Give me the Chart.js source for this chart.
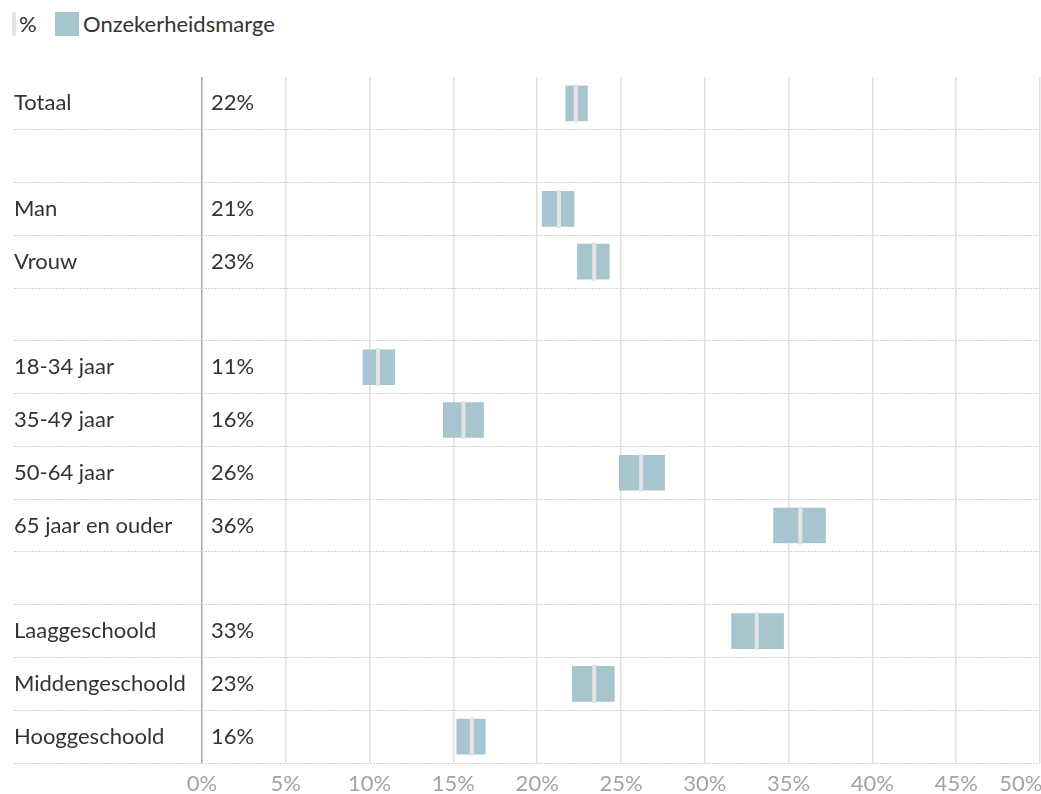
<!DOCTYPE html>
<html lang="nl">
<head>
<meta charset="utf-8">
<title>Onzekerheidsmarge</title>
<script src="https://cdn.jsdelivr.net/npm/chart.js@4.4.1/dist/chart.umd.min.js"></script>
<style>
  html, body { margin: 0; padding: 0; background: #fff; }
  body { width: 1041px; height: 794px; position: relative; overflow: hidden; font-family: Lato, sans-serif; color: #333; }
  .legend { position: absolute; left: 0; top: 0; width: 400px; height: 48px; font-size: 22px; line-height: 24px; }
  .legend span { position: absolute; top: 12px; }
  .legend .mark-line { left: 12px; width: 4px; height: 24px; background: #e4e4e2; }
  .legend .mark-box { left: 55px; width: 24px; height: 24px; background: #a7c5cf; }
  #chart { position: absolute; left: 0; top: 0; }
</style>
</head>
<body>
<div class="legend">
  <span class="mark-line"></span><span style="left:19px">%</span>
  <span class="mark-box"></span><span style="left:83px">Onzekerheidsmarge</span>
</div>
<!-- canvas is breder dan het venster zodat het label "50%" het grafiekvlak niet inkrimpt -->
<canvas id="chart" width="1100" height="794"></canvas>
<script>
// rijen (lege strings = witregel tussen groepen)
const categories = ['Totaal', '', 'Man', 'Vrouw', '', '18-34 jaar', '35-49 jaar', '50-64 jaar', '65 jaar en ouder', '', 'Laaggeschoold', 'Middengeschoold', 'Hooggeschoold'];
const valueLabels = ['22%', '', '21%', '23%', '', '11%', '16%', '26%', '36%', '', '33%', '23%', '16%'];
const percent = [22.3, null, 21.3, 23.4, null, 10.5, 15.6, 26.2, 35.7, null, 33.1, 23.4, 16.1];
const marginLow = [21.7, null, 20.3, 22.4, null, 9.6, 14.4, 24.9, 34.1, null, 31.6, 22.1, 15.2];
const marginHigh = [23.0, null, 22.2, 24.3, null, 11.5, 16.8, 27.6, 37.2, null, 34.7, 24.6, 16.9];

const barColor = '#a7c5cf';
const markColor = '#e4e4e2';
const textColor = '#333333';
const dotColor = '#d4d4d4';

Chart.defaults.font.family = 'Lato, sans-serif';
Chart.defaults.font.size = 22;
Chart.defaults.color = textColor;

const hideEdges = (c) => (c.index === 0 || c.index === categories.length) ? 'rgba(0,0,0,0)' : dotColor;

const ctx = document.getElementById('chart').getContext('2d');
new Chart(ctx, {
    type: 'bar',
    data: {
        labels: categories,
        datasets: [
            {
                type: 'line',
                label: '%',
                indexAxis: 'y',
                data: percent,
                showLine: false,
                pointStyle: 'line',
                rotation: 90,
                pointRadius: 19,
                pointHoverRadius: 19,
                pointBorderWidth: 4,
                pointHoverBorderWidth: 4,
                borderColor: markColor,
                backgroundColor: markColor,
                order: 0
            },
            {
                label: 'Onzekerheidsmarge',
                indexAxis: 'y',
                data: marginLow.map((lo, i) => lo == null ? null : [lo, marginHigh[i]]),
                backgroundColor: barColor,
                barThickness: 35,
                order: 1
            }
        ]
    },
    options: {
        indexAxis: 'y',
        responsive: false,
        animation: false,
        layout: { padding: { left: 14, top: 77, right: 60, bottom: 0 } },
        plugins: {
            legend: { display: false },
            tooltip: { enabled: false }
        },
        scales: {
            x: {
                type: 'linear',
                position: 'bottom',
                min: 0,
                max: 50,
                afterFit: (scale) => { scale.height = 31; },
                border: { display: false },
                grid: {
                    drawTicks: false,
                    lineWidth: 1.5,
                    color: (c) => (c.tick && c.tick.value === 0) ? '#a8a8a8' : '#e0e0e0'
                },
                ticks: {
                    stepSize: 5,
                    autoSkip: false,
                    padding: 8,
                    color: '#a3a3a3',
                    maxRotation: 0,
                    // "50%" schuift naar links zoals in het origineel
                    callback: (v) => v === 50 ? '50%\u2003\u2003\u2009\u2009' : v + '%'
                }
            },
            y: {
                type: 'category',
                position: 'left',
                weight: 1,
                afterFit: (scale) => { scale.width = 188; },
                border: { display: false, dash: [2, 1] },
                grid: {
                    offset: true,
                    lineWidth: 1,
                    tickLength: 188,
                    tickBorderDash: [2, 1],
                    color: hideEdges,
                    tickColor: hideEdges
                },
                ticks: {
                    autoSkip: false,
                    crossAlign: 'far',
                    color: textColor
                }
            },
            y2: {
                type: 'category',
                position: 'left',
                weight: 0,
                labels: valueLabels,
                offset: true,
                afterFit: (scale) => { scale.width = 0; },
                border: { display: false },
                grid: { display: false },
                ticks: {
                    autoSkip: false,
                    mirror: true,
                    crossAlign: 'near',
                    padding: 9,
                    color: textColor
                }
            }
        }
    }
});
</script>
</body>
</html>
